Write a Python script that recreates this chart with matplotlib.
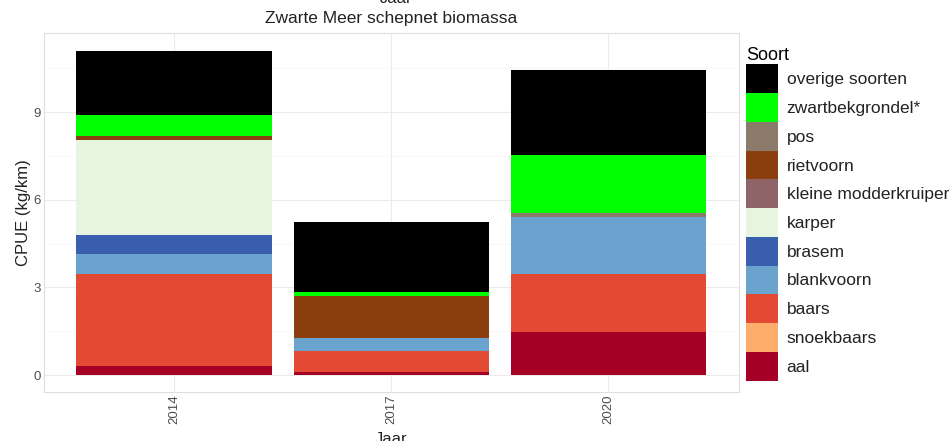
import numpy as np
import matplotlib.pyplot as plt
from matplotlib.ticker import MultipleLocator

plt.rcParams['font.family'] = ['Liberation Sans', 'DejaVu Sans']

# Data
years = ["2014", "2017", "2020"]
species = ["aal", "snoekbaars", "baars", "blankvoorn", "brasem", "karper",
           "kleine modderkruiper", "rietvoorn", "pos", "zwartbekgrondel*",
           "overige soorten"]
colors = ["#a50026", "#fdae6b", "#e34a33", "#6ba3cf", "#3a5fae", "#e5f5e0",
          "#8e6468", "#8b3e0f", "#8c7b6a", "#00ff00", "#000000"]

aal = [0.30, 0.10, 1.46]
snoekbaars = [0.0, 0.0, 0.0]
baars = [3.15, 0.73, 2.00]
blankvoorn = [0.68, 0.43, 1.97]
brasem = [0.66, 0.0, 0.0]
karper = [3.27, 0.0, 0.0]
kleine_modderkruiper = [0.0, 0.0, 0.0]
rietvoorn = [0.14, 1.46, 0.0]
pos = [0.0, 0.0, 0.11]
zwartbekgrondel = [0.70, 0.13, 2.01]
overige = [2.19, 2.40, 2.88]

values = [aal, snoekbaars, baars, blankvoorn, brasem, karper,
          kleine_modderkruiper, rietvoorn, pos, zwartbekgrondel, overige]

fig = plt.figure(figsize=(9.52, 4.41), dpi=100)
ax = fig.add_axes([0.046, 0.111, 0.730, 0.814])

x = np.arange(1, len(years) + 1)
bottom = np.zeros(len(years))
handles = []
for name, vals, col in zip(species, values, colors):
    h = ax.bar(x, vals, width=0.9, bottom=bottom, color=col, label=name,
               zorder=2)
    handles.append(h)
    bottom += np.array(vals)

ax.set_xlim(0.4, 3.6)
ax.set_ylim(-0.58, 11.71)
ax.yaxis.set_major_locator(MultipleLocator(3))
ax.yaxis.set_minor_locator(MultipleLocator(1.5))
ax.set_xticks(x)
ax.set_xticklabels(years, rotation=90)
ax.tick_params(axis='both', which='both', length=0, labelsize=9.5,
               labelcolor='#4d4d4d')
ax.tick_params(axis='x', pad=1.5)
ax.tick_params(axis='y', pad=2)
ax.grid(which='major', color='#ebebeb', linewidth=0.8, zorder=0)
ax.grid(which='minor', axis='y', color='#f4f4f4', linewidth=0.5, zorder=0)
for s in ax.spines.values():
    s.set_color('#dedede')
    s.set_linewidth(0.8)

ax.set_ylabel("CPUE (kg/km)", fontsize=12, color='#222222')
ax.yaxis.set_label_coords(-0.019, 0.5)
ax.set_xlabel("Jaar", fontsize=12, color='#222222', labelpad=6)
ax.set_title("Zwarte Meer schepnet biomassa", fontsize=12.5, color='#222222',
             pad=7)
fig.text(0.416, 1.003, "Jaar", ha='center', va='center', fontsize=12,
         color='#222222')

leg = fig.legend(handles[::-1], species[::-1], loc='upper left',
                 bbox_to_anchor=(0.775, 0.912), frameon=False,
                 title="Soort", alignment='left', fontsize=12.5,
                 title_fontsize=13, handlelength=1.79, handleheight=2.17,
                 labelspacing=0.0, handletextpad=0.52, borderpad=0.5,
                 borderaxespad=0)
for t in leg.get_texts():
    t.set_color('#222222')

fig.savefig("out.png", dpi=100)
